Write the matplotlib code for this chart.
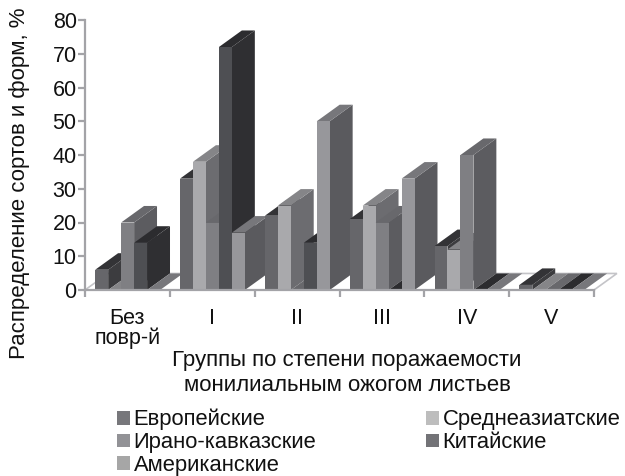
import numpy as np
import matplotlib
matplotlib.use('Agg')
import matplotlib.pyplot as plt
from matplotlib.patches import Polygon, Rectangle, Patch

plt.rcParams['font.family'] = ['Liberation Sans', 'DejaVu Sans']

groups = ['Без\nповр-й', 'I', 'II', 'III', 'IV', 'V']
names = ['Европейские', 'Среднеазиатские', 'Ирано-кавказские', 'Китайские', 'Американские']

european = [6, 33, 22, 21, 13, 1.5]
central_asian = [0, 38, 25, 25, 12, 0]
iran_caucasus = [20, 20, 0, 20, 40, 0]
chinese = [14, 72, 14, 0, 0, 0]
american = [0, 17, 50, 33, 0, 0]

series = [european, central_asian, iran_caucasus, chinese, american]

# front, side, top
shades = [('#66666a', '#3c3c3f', '#333336'),
          ('#a9a9ac', '#6c6c70', '#858588'),
          ('#7f7f83', '#5c5c60', '#68686c'),
          ('#4e4f53', '#2f2f32', '#2c2c2f'),
          ('#97979b', '#5a5a5e', '#77777b')]
legend_colors = ['#77777b', '#bdbdbd', '#929296', '#737377', '#a6a6a6']

W, H = 625, 476
fig = plt.figure(figsize=(W / 100, H / 100), dpi=100)
ax = fig.add_axes([85 / W, 1 - 290 / H, 509 / W, 270 / H])
ax.set_xlim(0, 6)
ax.set_ylim(0, 80)

bar_w = 0.153
start = 0.12
dx = 0.27
dy = 4.9
grey = '#a3a3a7'
ink = '#111111'

# пол диаграммы
ax.add_patch(Polygon([(0, 0), (6, 0), (6 + dx, dy), (dx, dy)], closed=True,
                     facecolor='white', edgecolor='#c4c4c8', lw=1.2,
                     clip_on=False, zorder=1))

z = 2
for g in range(len(groups)):
    for s, vals in enumerate(series):
        v = vals[g]
        x0 = g + start + s * bar_w
        x1 = x0 + bar_w
        front, side, top = shades[s]
        if v > 0:
            ax.add_patch(Polygon([(x1, 0), (x1 + dx, dy), (x1 + dx, v + dy), (x1, v)],
                                 closed=True, facecolor=side, edgecolor='none',
                                 clip_on=False, zorder=z))
        ax.add_patch(Polygon([(x0, v), (x1, v), (x1 + dx, v + dy), (x0 + dx, v + dy)],
                             closed=True, facecolor=top, edgecolor='none',
                             clip_on=False, zorder=z))
        if v > 0:
            ax.add_patch(Rectangle((x0, 0), bar_w, v, facecolor=front, edgecolor='none',
                                   clip_on=False, zorder=z))
        z += 1

for name in ['top', 'right']:
    ax.spines[name].set_visible(False)
for name in ['left', 'bottom']:
    ax.spines[name].set_color(grey)
    ax.spines[name].set_linewidth(1.6)
    ax.spines[name].set_zorder(z + 1)

ax.set_yticks(np.arange(0, 81, 10))
ax.tick_params(axis='y', length=5, width=1.6, color=grey, labelsize=15.5, pad=1, labelcolor=ink)
ax.set_xticks(np.arange(0, 7))
ax.set_xticklabels([])
ax.tick_params(axis='x', which='major', length=5, width=1.6, color=grey)
ax.set_xticks(np.arange(len(groups)) + 0.5, minor=True)
ax.set_xticklabels(groups, minor=True, fontsize=15.5, linespacing=0.9, color=ink)
ax.tick_params(axis='x', which='minor', length=0, pad=13)

fig.text(20 / W, 1 - 183 / H, 'Распределение сортов и форм, %', rotation=90,
         fontsize=16, color=ink, ha='center', va='center')
fig.text(347 / W, 1 - 373 / H, 'Группы по степени поражаемости\nмонилиальным ожогом листьев',
         fontsize=16, color=ink, ha='center', va='center', linespacing=1.3)

order = [0, 2, 4, 1, 3]
handles = [Patch(facecolor=legend_colors[i], edgecolor='none', label=names[i]) for i in order]
fig.legend(handles=handles, ncol=2, frameon=False, fontsize=15.8,
           loc='upper left', bbox_to_anchor=(117 / W, 1 - 409 / H),
           borderpad=0, borderaxespad=0, handlelength=0.6, handleheight=0.6,
           handletextpad=0.15, labelspacing=0.08, columnspacing=5.0,
           labelcolor=ink)

fig.savefig('out.png', dpi=100)
